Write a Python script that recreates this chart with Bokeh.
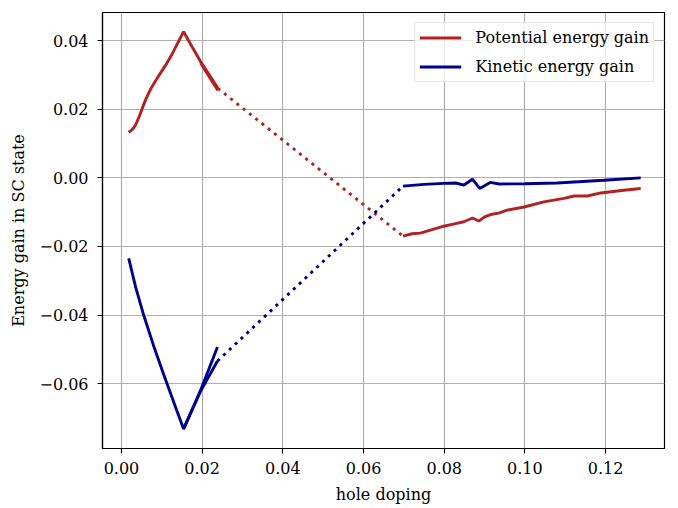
from bokeh.plotting import figure
from bokeh.models import Range1d, FixedTicker, Legend, LegendItem
from bokeh.embed import file_html
from bokeh.resources import INLINE

# ---- data ----
pot_x = [0.0018, 0.0026, 0.0035, 0.0043, 0.0051, 0.0060, 0.0072, 0.0085, 0.0097,
         0.0112, 0.0126, 0.0140, 0.0154, 0.0175, 0.0196, 0.0218, 0.0239]
pot_y = [0.0133, 0.0140, 0.0154, 0.0176, 0.0201, 0.0228, 0.0258, 0.0284, 0.0306,
         0.0333, 0.0362, 0.0394, 0.0426, 0.0382, 0.0339, 0.0300, 0.0261]
pot_tail_x = [0.0196, 0.0239]
pot_tail_y = [0.0335, 0.0255]
pot_gap_x = [0.0239, 0.0698]
pot_gap_y = [0.0261, -0.0170]
pot_hi_x = [0.0698, 0.0720, 0.0741, 0.0770, 0.0799, 0.0825, 0.0849, 0.0870, 0.0886,
            0.0900, 0.0915, 0.0935, 0.0956, 0.0998, 0.1047, 0.1097, 0.1122, 0.1155,
            0.1188, 0.1245, 0.1287]
pot_hi_y = [-0.0170, -0.0163, -0.0161, -0.0151, -0.0141, -0.0134, -0.0128, -0.0117, -0.0126,
            -0.0114, -0.0107, -0.0103, -0.0094, -0.0085, -0.0070, -0.0060, -0.0053, -0.0053,
            -0.0044, -0.0036, -0.0031]

kin_x = [0.0018, 0.0035, 0.0054, 0.0079, 0.0104, 0.0129, 0.0154, 0.0175, 0.0196, 0.0238]
kin_y = [-0.0235, -0.0318, -0.0396, -0.0487, -0.0571, -0.0652, -0.0732, -0.0676, -0.0620, -0.0493]
kin_tail_x = [0.0154, 0.0196, 0.0238]
kin_tail_y = [-0.0732, -0.0622, -0.0534]
kin_gap_x = [0.0238, 0.0698]
kin_gap_y = [-0.0534, -0.0024]
kin_hi_x = [0.0698, 0.0750, 0.0798, 0.0828, 0.0849, 0.0870, 0.0888, 0.0915, 0.0936,
            0.1000, 0.1080, 0.1196, 0.1287]
kin_hi_y = [-0.0024, -0.0019, -0.0016, -0.0015, -0.0021, -0.0004, -0.0031, -0.0013, -0.0018,
            -0.0017, -0.0015, -0.0007, 0.0000]

xticks = [0.00, 0.02, 0.04, 0.06, 0.08, 0.10, 0.12]
xtick_labels = ["0.00", "0.02", "0.04", "0.06", "0.08", "0.10", "0.12"]
yticks = [-0.06, -0.04, -0.02, 0.00, 0.02, 0.04]
ytick_labels = ["\u22120.06", "\u22120.04", "\u22120.02", "0.00", "0.02", "0.04"]

RED = "#b22222"
BLUE = "#00008b"
FONT = "DejaVu Serif"
FS = "16px"
LW = 2.9

p = figure(width=678, height=508, output_backend="svg", toolbar_location=None,
           x_range=Range1d(-0.0047, 0.1346), y_range=Range1d(-0.0789, 0.0482),
           min_border_left=102, min_border_right=14, min_border_top=12, min_border_bottom=60)
p.background_fill_color = "white"
p.border_fill_color = "white"
p.outline_line_color = "black"
p.outline_line_width = 1.2

for ax, ticks, labels in ((p.xaxis[0], xticks, xtick_labels), (p.yaxis[0], yticks, ytick_labels)):
    ax.ticker = FixedTicker(ticks=ticks)
    ax.major_label_overrides = {t: l for t, l in zip(ticks, labels)}
    ax.minor_tick_line_color = None
    ax.major_tick_in = 0
    ax.major_tick_out = 5
    ax.major_tick_line_color = "black"
    ax.major_tick_line_width = 1.2
    ax.axis_line_color = "black"
    ax.axis_line_width = 1.2
    ax.major_label_text_font = FONT
    ax.major_label_text_font_size = FS
    ax.major_label_text_color = "black"
    ax.axis_label_text_font = FONT
    ax.axis_label_text_font_size = FS
    ax.axis_label_text_font_style = "normal"
    ax.axis_label_text_color = "black"

p.xaxis.axis_label = "hole doping"
p.yaxis.axis_label = "Energy gain in SC state"
p.xaxis.major_label_standoff = 8
p.xaxis.axis_label_standoff = 8
p.yaxis.major_label_standoff = 9
p.yaxis.axis_label_standoff = 8

for g, ticks in ((p.xgrid[0], xticks), (p.ygrid[0], yticks)):
    g.ticker = FixedTicker(ticks=ticks)
    g.grid_line_color = "#b0b0b0"
    g.grid_line_width = 1.2

r_pot = p.line(pot_x, pot_y, line_color=RED, line_width=LW)
p.line(pot_tail_x, pot_tail_y, line_color=RED, line_width=LW)
p.line(pot_gap_x, pot_gap_y, line_color=RED, line_width=LW, line_dash="3 5")
p.line(pot_hi_x, pot_hi_y, line_color=RED, line_width=LW)

r_kin = p.line(kin_x, kin_y, line_color=BLUE, line_width=LW)
p.line(kin_tail_x, kin_tail_y, line_color=BLUE, line_width=LW)
p.line(kin_gap_x, kin_gap_y, line_color=BLUE, line_width=LW, line_dash="3 5")
p.line(kin_hi_x, kin_hi_y, line_color=BLUE, line_width=LW)

legend = Legend(items=[LegendItem(label="Potential energy gain", renderers=[r_pot]),
                       LegendItem(label="Kinetic energy gain", renderers=[r_kin])],
                location="top_right")
legend.label_text_font = FONT
legend.label_text_font_size = FS
legend.label_text_color = "black"
legend.border_line_color = "#cccccc"
legend.border_line_width = 1
legend.background_fill_alpha = 0.8
legend.glyph_width = 42
legend.glyph_height = 21
legend.label_height = 21
legend.label_standoff = 14
legend.spacing = 8
legend.padding = 4
legend.margin = 10
p.add_layout(legend)

open("out.html", "w").write(file_html(p, INLINE))
